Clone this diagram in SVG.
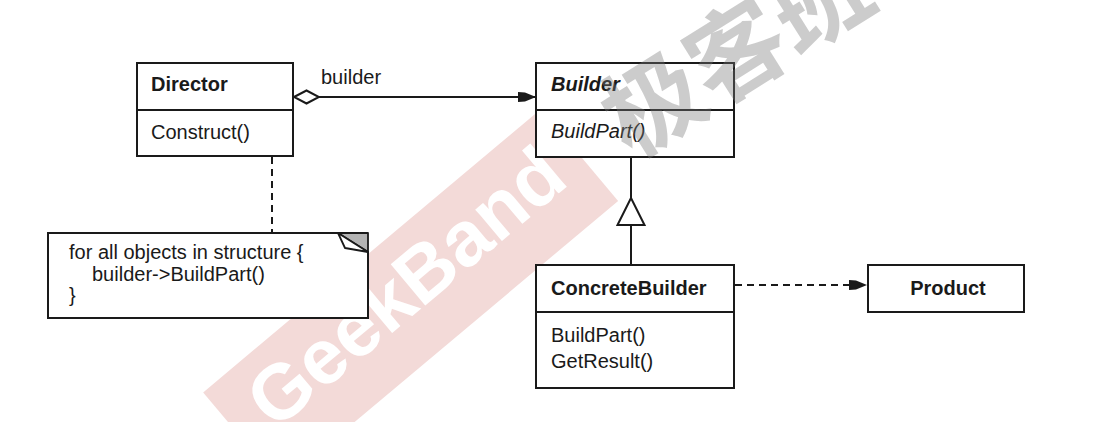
<svg xmlns="http://www.w3.org/2000/svg" width="1098" height="422" viewBox="0 0 1098 422">
  <style>
    .box{fill:#fff;stroke:#1a1a1a;stroke-width:2}
    .t{font-family:"Liberation Sans",Arial,Helvetica,sans-serif;font-size:20px;fill:#1a1a1a}
    .b{font-weight:bold}
    .i{font-style:italic}
    .ln{stroke:#1a1a1a;stroke-width:2;fill:none}
    .dash{stroke-dasharray:7 5}
    .wm{font-family:"Liberation Sans",Arial,sans-serif;font-weight:bold;font-size:78px;fill:#fff}
    .wmcn{font-family:"Noto Sans CJK SC","Noto Sans CJK TC",sans-serif;font-weight:bold;font-size:98px;fill:#7a7a7a;fill-opacity:0.38}
  </style>
  <defs>
    <marker id="filled" viewBox="0 0 19 12" refX="18" refY="6" markerWidth="19" markerHeight="12" markerUnits="userSpaceOnUse" orient="auto">
      <path d="M0,1 L7,1.5 L18,6 L7,10.5 L0,11 Z" fill="#1a1a1a"/>
    </marker>
    <marker id="diamond" viewBox="0 0 28 16" refX="1" refY="8" markerWidth="28" markerHeight="16" markerUnits="userSpaceOnUse" orient="auto">
      <path d="M1,8 L13.5,1.5 L26,8 L13.5,14.5 Z" fill="#fff" stroke="#1a1a1a" stroke-width="2"/>
    </marker>
    <marker id="triangle" viewBox="0 0 32 30" refX="1" refY="15" markerWidth="32" markerHeight="30" markerUnits="userSpaceOnUse" orient="auto">
      <path d="M1,1.5 L28,15 L1,28.5 Z" fill="#fff" stroke="#1a1a1a" stroke-width="2"/>
    </marker>
  </defs>

  <!-- watermark band -->
  <g id="watermark-band" transform="translate(410,292) rotate(-40)">
    <rect x="-223" y="-56" width="441" height="120" fill="#f3dad8"/>
    <text class="wm" x="0" y="20" text-anchor="middle">GeekBand</text>
  </g>

  <!-- connectors -->
  <g id="connectors">
    <path class="ln" d="M294,97 L536,97" marker-start="url(#diamond)" marker-end="url(#filled)"/>
    <text class="t" x="321" y="84">builder</text>
    <ellipse cx="272.5" cy="135" rx="4" ry="5" fill="#fff" stroke="#1a1a1a" stroke-width="1.8"/>
    <path class="ln" d="M272.5,140 V156"/>
    <path class="ln dash" d="M272,157 V233"/>
    <path class="ln" d="M631,265 L631,225 L631,157" marker-mid="url(#triangle)"/>
    <path class="ln dash" d="M735,285 L867,285" marker-end="url(#filled)"/>
  </g>

  <!-- Director -->
  <g id="director">
    <rect class="box" x="137" y="63" width="156" height="93"/>
    <line class="ln" x1="137" y1="110" x2="293" y2="110"/>
    <text class="t b" x="151" y="91">Director</text>
    <text class="t" x="151" y="139">Construct()</text>
  </g>

  <!-- Note -->
  <g id="note">
    <path class="box" d="M48,233 H338 L368,252 V318 H48 Z"/>
    <path d="M338,233 H368 V252 Z" fill="#b3b3b3" stroke="#1a1a1a" stroke-width="1.8" stroke-linejoin="round"/>
    <path d="M338,233 L345,248 L368,252 Z" fill="#fff" stroke="#1a1a1a" stroke-width="1.8" stroke-linejoin="round"/>
    <text class="t" x="69" y="259">for all objects in structure {</text>
    <text class="t" x="92" y="281">builder-&gt;BuildPart()</text>
    <text class="t" x="69" y="302">}</text>
  </g>

  <!-- Builder -->
  <g id="builder">
    <rect class="box" x="536" y="63" width="198" height="94"/>
    <line class="ln" x1="536" y1="110" x2="734" y2="110"/>
    <text class="t b i" x="551" y="91">Builder</text>
    <text class="t i" x="551" y="138">BuildPart()</text>
  </g>

  <!-- ConcreteBuilder -->
  <g id="concrete-builder">
    <rect class="box" x="536" y="265" width="198" height="123"/>
    <line class="ln" x1="536" y1="312" x2="734" y2="312"/>
    <text class="t b" x="551" y="295">ConcreteBuilder</text>
    <text class="t" x="551" y="342">BuildPart()</text>
    <text class="t" x="551" y="368">GetResult()</text>
  </g>

  <!-- Product -->
  <g id="product">
    <rect class="box" x="868" y="265" width="156" height="47"/>
    <text class="t b" x="948" y="295" text-anchor="middle">Product</text>
  </g>

  <!-- watermark characters -->
  <g id="watermark-cn" transform="translate(631,160) rotate(-32)">
    <text class="wmcn" x="0" y="0">极客班</text>
  </g>
</svg>
